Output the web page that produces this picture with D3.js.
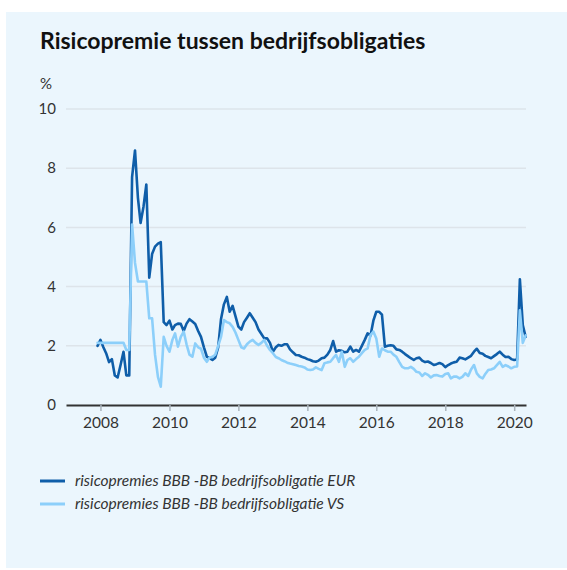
<!DOCTYPE html>
<html>
<head>
<meta charset="utf-8">
<script src="https://cdn.jsdelivr.net/npm/d3@7"></script>
<style>
  html, body { margin: 0; padding: 0; background: #ffffff; }
  svg { display: block; }
  text { font-family: Lato, "Noto Sans", sans-serif; fill: #222; }
</style>
</head>
<body>
<svg id="chart" width="567" height="570"></svg>
<script>
// ---- data ----
const title = "Risicopremie tussen bedrijfsobligaties";
const unitLabel = "%";
const seriesNames = [
  "risicopremies BBB -BB bedrijfsobligatie EUR",
  "risicopremies BBB -BB bedrijfsobligatie VS"
];
const yTicks = [0, 2, 4, 6, 8, 10];
const xTickYears = [2008, 2010, 2012, 2014, 2016, 2018, 2020];
const firstMonth = "2007-12";
const lastMonth = "2020-05";

const eurValues = [
  2.0,
  2.2, 1.95, 1.75, 1.45, 1.55, 1.0, 0.93, 1.35, 1.8, 1.0, 1.0, 7.7,
  8.6, 7.0, 6.15, 6.7, 7.45, 4.3, 5.1, 5.35, 5.45, 5.5, 2.8, 2.7,
  2.85, 2.55, 2.7, 2.75, 2.74, 2.5, 2.75, 2.9, 2.82, 2.74, 2.5, 2.3,
  1.95, 1.63, 1.58, 1.52, 1.6, 1.95, 2.9, 3.4, 3.65, 3.15, 3.35, 3.0,
  2.65, 2.55, 2.8, 2.95, 3.1, 2.95, 2.8, 2.55, 2.4, 2.25, 2.25, 2.1,
  1.8, 1.95, 2.03, 2.0, 2.05, 2.05, 1.88, 1.78, 1.69, 1.68, 1.63, 1.6,
  1.55, 1.52, 1.48, 1.46, 1.5, 1.58, 1.6, 1.7, 1.86, 2.16, 1.8, 1.85,
  1.83, 1.78, 1.8, 1.97, 1.8, 1.86, 1.8, 2.0, 2.2, 2.42, 2.35, 2.85,
  3.15, 3.15, 3.05, 1.97, 2.0, 2.02, 2.0, 1.88, 1.86, 1.8, 1.72, 1.65,
  1.58, 1.52, 1.58, 1.6, 1.5, 1.45, 1.47, 1.42, 1.35, 1.38, 1.42, 1.38,
  1.28, 1.35, 1.4, 1.44, 1.46, 1.6, 1.58, 1.54, 1.6, 1.66, 1.8, 1.9,
  1.76, 1.73, 1.66, 1.62, 1.58, 1.65, 1.72, 1.8, 1.7, 1.62, 1.63, 1.55,
  1.52, 1.54, 4.25, 2.7, 2.3
];

const vsValues = [
  2.1,
  2.1, 2.1, 2.1, 2.1, 2.1, 2.1, 2.1, 2.1, 2.1, 1.86, 1.86, 6.1,
  4.8, 4.17, 4.17, 4.17, 4.17, 2.93, 2.93, 1.7, 0.95, 0.62, 2.3, 2.0,
  1.8, 2.2, 2.42, 1.97, 2.3, 2.48, 2.05, 1.7, 1.63, 2.08, 1.95, 1.9,
  1.6, 1.46, 1.6, 1.63, 1.7, 2.0, 2.3, 2.87, 2.8, 2.76, 2.64, 2.45,
  2.2, 1.95, 1.91, 2.05, 2.14, 2.2, 2.1, 2.03, 2.1, 2.2, 2.0, 1.86,
  1.75, 1.62, 1.58, 1.52, 1.48, 1.43, 1.4, 1.38, 1.35, 1.32, 1.3, 1.27,
  1.2, 1.18, 1.2, 1.27, 1.22, 1.18, 1.41, 1.44, 1.46, 1.58, 1.69, 1.46,
  1.8, 1.29, 1.52, 1.58, 1.46, 1.55, 1.63, 1.75, 1.86, 1.91, 2.36, 2.48,
  2.25, 1.63, 1.91, 1.85, 1.8, 1.8, 1.7, 1.63, 1.45, 1.29, 1.24, 1.24,
  1.29, 1.22, 1.12, 1.1, 0.98, 1.07, 1.02, 0.93, 1.0, 1.01, 0.98, 0.96,
  1.05, 1.07, 0.9, 0.96, 0.96, 0.9, 0.95, 1.07, 0.98, 1.2, 1.35, 1.07,
  0.95, 0.9, 1.05, 1.18, 1.2, 1.24, 1.35, 1.46, 1.29, 1.35, 1.3, 1.24,
  1.29, 1.3, 3.2, 2.1, 2.35
];

const colors = ["#0f5ea9", "#8ccffa"];

// ---- build ----
const parseMonth = d3.timeParse("%Y-%m");
const months = d3.timeMonth.range(parseMonth(firstMonth), d3.timeMonth.offset(parseMonth(lastMonth), 1));
const series = [eurValues, vsValues].map((vals, i) => ({
  name: seriesNames[i],
  color: colors[i],
  points: vals.map((v, j) => ({ date: months[j], value: v }))
}));

const svg = d3.select("#chart");

// panel background
svg.append("rect")
  .attr("x", 6).attr("y", 12)
  .attr("width", 561).attr("height", 556)
  .attr("fill", "#ebf6fd");

// title
svg.append("text")
  .attr("x", 40).attr("y", 49)
  .style("font-size", "23px")
  .style("font-weight", "bold")
  .style("fill", "#111")
  .text(title);

svg.append("text")
  .attr("x", 40).attr("y", 89)
  .style("font-size", "15px")
  .style("fill", "#333")
  .text(unitLabel);

const x = d3.scaleTime()
  .domain([new Date(2007, 0, 1), new Date(2020, 4, 5)])
  .range([66, 526]);
const y = d3.scaleLinear().domain([0, 10]).range([405, 109]);

// gridlines
svg.append("g").selectAll("line")
  .data(yTicks.filter(t => t > 0))
  .join("line")
  .attr("x1", x.range()[0]).attr("x2", x.range()[1])
  .attr("y1", d => y(d)).attr("y2", d => y(d))
  .attr("stroke", "#dde4ea")
  .attr("stroke-width", 1.5);

// y labels
svg.append("g").selectAll("text")
  .data(yTicks)
  .join("text")
  .attr("x", 56)
  .attr("y", d => y(d))
  .attr("dy", "0.35em")
  .attr("text-anchor", "end")
  .style("font-size", "15px")
  .style("fill", "#333")
  .text(d => d);

// x axis
const xAxis = d3.axisBottom(x)
  .tickValues(xTickYears.map(yr => new Date(yr, 0, 1)))
  .tickFormat(d3.timeFormat("%Y"))
  .tickSize(6)
  .tickSizeOuter(0);
const gx = svg.append("g")
  .attr("transform", `translate(0,${y(0)})`)
  .call(xAxis);
gx.select(".domain").attr("stroke", "#333").attr("stroke-width", 2);
gx.selectAll(".tick line").attr("stroke", "#aab4bc").attr("stroke-width", 1.5);
gx.selectAll(".tick text")
  .attr("y", 12)
  .style("font-family", "Lato, 'Noto Sans', sans-serif")
  .style("font-size", "15.5px")
  .style("fill", "#333");

// lines
const line = d3.line()
  .x(d => x(d.date))
  .y(d => y(d.value))
  .curve(d3.curveLinear);

svg.append("g").selectAll("path")
  .data(series)
  .join("path")
  .attr("d", d => line(d.points))
  .attr("fill", "none")
  .attr("stroke", d => d.color)
  .attr("stroke-width", 2.6)
  .attr("stroke-linejoin", "round")
  .attr("stroke-linecap", "round");

// legend
const legend = svg.append("g").selectAll("g")
  .data(series)
  .join("g")
  .attr("transform", (d, i) => `translate(40,${481 + i * 23})`);
legend.append("line")
  .attr("x1", 0).attr("x2", 25)
  .attr("y1", 0).attr("y2", 0)
  .attr("stroke", d => d.color)
  .attr("stroke-width", 3);
legend.append("text")
  .attr("x", 35).attr("y", 0)
  .attr("dy", "0.35em")
  .style("font-size", "15.5px")
  .style("font-style", "italic")
  .style("fill", "#333")
  .text(d => d.name);
</script>
</body>
</html>
